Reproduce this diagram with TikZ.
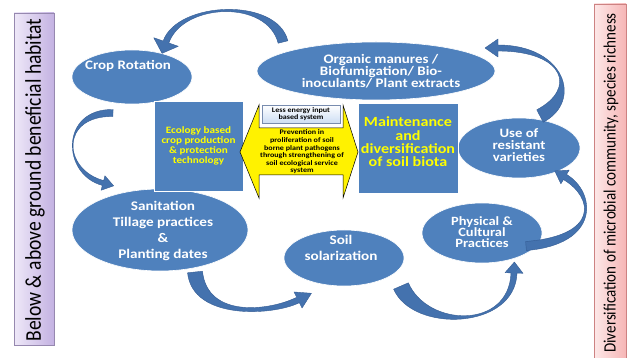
\documentclass[tikz,border=0pt]{standalone}
\usepackage{fontspec}
\setmainfont{Carlito}
\newfontfamily\wide[FakeStretch=1.15]{Carlito}
\newfontfamily\narrow[FakeStretch=0.87]{Carlito}
\usetikzlibrary{calc,shapes.geometric}

\definecolor{ellblue}{RGB}{79,129,189}
\definecolor{arrblue}{RGB}{68,114,174}
\definecolor{arredge}{RGB}{52,92,148}
\definecolor{txtyellow}{RGB}{255,255,0}
\definecolor{lavL}{RGB}{238,232,248}
\definecolor{lavR}{RGB}{196,178,226}
\definecolor{lavEdge}{RGB}{150,136,175}
\definecolor{pinkL}{RGB}{253,232,232}
\definecolor{pinkR}{RGB}{246,182,182}
\definecolor{pinkEdge}{RGB}{205,130,130}
\definecolor{noteL}{RGB}{205,222,244}
\definecolor{noteEdge}{RGB}{120,140,175}

% tapered curved block arrow along the Bezier #1..#4
% #5 half width at the tail, #6 half width at the head, #7 half span of the head, #8 head length
\newcommand\bentarrow[8]{%
  \fill[bentfill]
    ($#1!#5!90:#2$) .. controls ($#2!#5!-90:#1$) and ($#3!#6!90:#4$) .. ($#4!#6!-90:#3$)
    -- ($#4!#7!-90:#3$) -- ($#4!#8!180:#3$) -- ($#4!#7!90:#3$) -- ($#4!#6!90:#3$)
    .. controls ($#3!#6!-90:#4$) and ($#2!#5!90:#1$) .. ($#1!#5!-90:#2$) -- cycle;}

\newcommand\fs[2]{\wide\bfseries\fontsize{#1}{#2}\selectfont}

\tikzset{
  blob/.style={ellipse, fill=ellblue, draw=white, line width=0.6pt, inner sep=0pt},
  panel/.style={fill=ellblue, draw=white, line width=0.6pt},
  blobtext/.style={text=white, align=center, inner sep=0pt},
  paneltext/.style={text=txtyellow, align=center, inner sep=0pt},
  bentfill/.style={fill=arrblue, draw=arredge, line width=0.4pt, line join=round},
}

\begin{document}
\begin{tikzpicture}[x=1pt,y=-1pt]
\useasboundingbox (0,0) rectangle (629,358);
\fill[white] (0,0) rectangle (629,358);

% side bands
\shade[left color=lavL, right color=lavR, draw=lavEdge, line width=0.6pt]
  (14,13) rectangle (54,345);
\node[rotate=90, inner sep=0pt, font=\narrow\fontsize{22.5}{22}\selectfont] (habitat) at (35,180)
  {Below \& above ground beneficial habitat};
\shade[left color=pinkL, right color=pinkR, draw=pinkEdge, line width=0.6pt]
  (594,4) rectangle (626,362);
\node[rotate=90, inner sep=0pt, font=\narrow\fontsize{17.3}{17}\selectfont] (richness) at (611,183)
  {Diversification of microbial community, species richness};

% practice ellipses
\node[blob, minimum width=120pt, minimum height=54pt] (crop) at (132,77) {};
\node[blob, minimum width=238pt, minimum height=58pt] (organic) at (376,71) {};
\node[blob, minimum width=122pt, minimum height=60pt] (resist) at (519,148) {};
\node[blob, minimum width=176pt, minimum height=82pt] (sanit) at (160,230) {};
\node[blob, minimum width=120pt, minimum height=56pt] (solar) at (344,258) {};
\node[blob, minimum width=120pt, minimum height=60pt] (phys) at (482,233) {};

% central panels
\path[panel] (154,101) rectangle (243,191);
\path[panel] (358,103) rectangle (458,193);
\coordinate (ecoc) at (198.5,146);
\coordinate (maintc) at (408,142);

% two-headed arrow between the panels
\draw[fill=yellow, line width=0.5pt, line join=miter]
  (240,152) -- (259,105) -- (259,128) -- (343,128) -- (343,105) -- (358,152)
  -- (343,198) -- (343,175) -- (259,175) -- (259,198) -- cycle;
\node[top color=white, bottom color=noteL, draw=noteEdge, line width=0.4pt,
      minimum width=78pt, minimum height=18pt, inner sep=0pt, align=center,
      font=\fs{7}{7.8}] (less) at (301,114)
  {Less energy input\\ based system};
\node[align=center, inner sep=0pt, font=\fs{7}{7.6}] (prevent) at (302,152)
  {Prevention in\\ proliferation of soil\\ borne plant pathogens\\
   through strengthening of\\ soil ecological service\\ system};

% labels
\node[blobtext, font=\fs{13}{13}] (cropt) at (128,66) {Crop Rotation};
\node[blobtext, font=\fs{13}{12}] (organict) at (381,71) {Organic manures /\\ Biofumigation/ Bio-\\ inoculants/ Plant extracts};
\node[blobtext, font=\fs{12.8}{11.8}] (resistt) at (519,145) {Use of\\ resistant\\ varieties};
\node[blobtext, font=\fs{13.2}{16.3}] (sanitt) at (163,231) {Sanitation\\ Tillage practices\\ \&\\ Planting dates};
\node[blobtext, font=\fs{13.2}{16}] (solart) at (341,248) {Soil\\ solarization};
\node[blobtext, font=\fs{12.6}{11.2}] (physt) at (482,232) {Physical \&\\ Cultural\\ Practices};
\node[paneltext, font=\fs{9.7}{10}] (ecot) at (ecoc) {Ecology based\\ crop production\\ \& protection\\ technology};
\node[paneltext, font=\fs{14}{13.4}] (maintt) at (maintc) {Maintenance\\ and\\ diversification\\ of soil biota};

% cycle of curved arrows
\bentarrow{(283,42)}{(272,-2)}{(180,2)}{(166,42)}{5pt}{3pt}{13pt}{12pt}
\bentarrow{(113,113)}{(60,112)}{(62,172)}{(103,183)}{3.5pt}{2.5pt}{7.5pt}{11pt}
\bentarrow{(195,272)}{(200,320)}{(272,313)}{(298,300)}{7.5pt}{3pt}{9pt}{15pt}
\bentarrow{(401,286)}{(420,330)}{(512,330)}{(514,273)}{8pt}{3pt}{9pt}{11pt}
\bentarrow{(526,246)}{(600,240)}{(595,195)}{(565,177)}{4.5pt}{3pt}{8pt}{12pt}
\bentarrow{(540,116)}{(580,95)}{(565,48)}{(498,48)}{7pt}{3pt}{9pt}{13pt}
\end{tikzpicture}
\end{document}
